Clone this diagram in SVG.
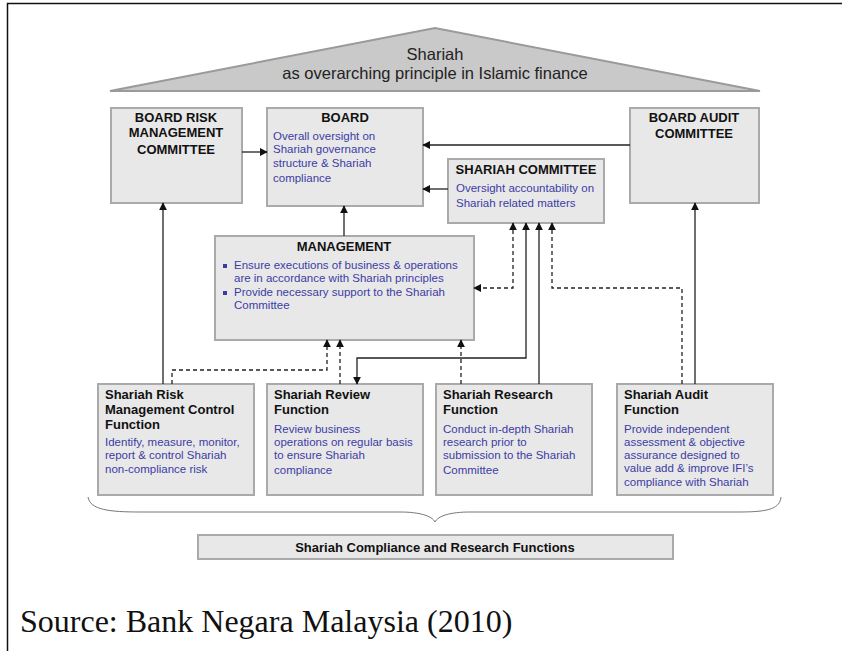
<svg xmlns="http://www.w3.org/2000/svg" width="842" height="651" viewBox="0 0 842 651">
<style>
.box{fill:#e8e8e8;stroke:#aaaaaa;stroke-width:2}
.t{font-family:"Liberation Sans",Arial,sans-serif;fill:#111;font-weight:bold;font-size:13px}
.ft{font-family:"Liberation Sans",Arial,sans-serif;fill:#111;font-weight:bold;font-size:13px}
.b{font-family:"Liberation Sans",Arial,sans-serif;fill:#3c3ca6;font-size:11.5px}
.c{fill:none;stroke:#222;stroke-width:1.3}
.d{fill:none;stroke:#222;stroke-width:1.3;stroke-dasharray:4,3}
</style>
<defs>
<marker id="ah" viewBox="0 0 10 10" refX="9" refY="5" markerWidth="8" markerHeight="8" markerUnits="userSpaceOnUse" orient="auto-start-reverse">
<path d="M0,0 L10,5 L0,10 z" fill="#111"/>
</marker>
</defs>
<rect x="0" y="0" width="842" height="651" fill="#fff"/>
<path d="M7.5,651 V3.5 H842" fill="none" stroke="#111" stroke-width="1.5"/>

<g id="roof">
<polygon points="110,91 435,28 760,91" fill="#c9c9c9" stroke="#9a9a9a" stroke-width="2"/>
<text x="435" y="60" text-anchor="middle" font-family="Liberation Sans,Arial,sans-serif" font-size="16.5" fill="#222">Shariah</text>
<text x="435" y="79" text-anchor="middle" font-family="Liberation Sans,Arial,sans-serif" font-size="16.5" fill="#222">as overarching principle in Islamic finance</text>
</g>

<g id="brmc">
<rect class="box" x="111" y="108" width="131" height="95"/>
<text class="t" x="176" y="122" text-anchor="middle">BOARD RISK</text>
<text class="t" x="176" y="137" text-anchor="middle">MANAGEMENT</text>
<text class="t" x="176" y="154" text-anchor="middle">COMMITTEE</text>
</g>

<g id="board">
<rect class="box" x="267" y="108" width="156" height="98"/>
<text class="t" x="345" y="122" text-anchor="middle">BOARD</text>
<text class="b" x="273" y="140">Overall oversight on</text>
<text class="b" x="273" y="153">Shariah governance</text>
<text class="b" x="273" y="167">structure &amp; Shariah</text>
<text class="b" x="273" y="182">compliance</text>
</g>

<g id="shariah-committee">
<rect class="box" x="448" y="159" width="156" height="64"/>
<text class="t" x="526" y="174" text-anchor="middle">SHARIAH COMMITTEE</text>
<text class="b" x="456" y="192">Oversight accountability on</text>
<text class="b" x="456" y="207">Shariah related matters</text>
</g>

<g id="bac">
<rect class="box" x="630" y="108" width="129" height="95"/>
<text class="t" x="694" y="122" text-anchor="middle">BOARD AUDIT</text>
<text class="t" x="694" y="138" text-anchor="middle">COMMITTEE</text>
</g>

<g id="management">
<rect class="box" x="215" y="236" width="259" height="104"/>
<text class="t" x="344" y="251" text-anchor="middle">MANAGEMENT</text>
<rect x="223" y="264" width="4" height="4" fill="#3c3ca6"/>
<rect x="223" y="291" width="4" height="4" fill="#3c3ca6"/>
<text class="b" x="234" y="269">Ensure executions of business &amp; operations</text>
<text class="b" x="234" y="282">are in accordance with Shariah principles</text>
<text class="b" x="234" y="296">Provide necessary support to the Shariah</text>
<text class="b" x="234" y="309">Committee</text>
</g>

<g id="srmcf">
<rect class="box" x="98" y="384" width="156" height="111"/>
<text class="ft" x="105" y="399">Shariah Risk</text>
<text class="ft" x="105" y="414">Management Control</text>
<text class="ft" x="105" y="429">Function</text>
<text class="b" x="105" y="446">Identify, measure, monitor,</text>
<text class="b" x="105" y="459">report &amp; control Shariah</text>
<text class="b" x="105" y="473">non-compliance risk</text>
</g>

<g id="srf">
<rect class="box" x="267" y="384" width="156" height="111"/>
<text class="ft" x="274" y="399">Shariah Review</text>
<text class="ft" x="274" y="414">Function</text>
<text class="b" x="274" y="433">Review business</text>
<text class="b" x="274" y="446">operations on regular basis</text>
<text class="b" x="274" y="459">to ensure Shariah</text>
<text class="b" x="274" y="474">compliance</text>
</g>

<g id="research">
<rect class="box" x="436" y="384" width="156" height="111"/>
<text class="ft" x="443" y="399">Shariah Research</text>
<text class="ft" x="443" y="414">Function</text>
<text class="b" x="443" y="433">Conduct in-depth Shariah</text>
<text class="b" x="443" y="446">research prior to</text>
<text class="b" x="443" y="459">submission to the Shariah</text>
<text class="b" x="443" y="474">Committee</text>
</g>

<g id="audit">
<rect class="box" x="617" y="384" width="156" height="111"/>
<text class="ft" x="624" y="399">Shariah Audit</text>
<text class="ft" x="624" y="414">Function</text>
<text class="b" x="624" y="433">Provide independent</text>
<text class="b" x="624" y="446">assessment &amp; objective</text>
<text class="b" x="624" y="459">assurance designed to</text>
<text class="b" x="624" y="472">value add &amp; improve IFI’s</text>
<text class="b" x="624" y="486">compliance with Shariah</text>
</g>

<g id="brace">
<path d="M88,497 C90,510 110,512 140,512 L400,512 C420,512 432,516 435,522 C438,516 450,512 470,512 L740,512 C770,512 780,508 781,497" fill="none" stroke="#777" stroke-width="1"/>
</g>

<g id="scrf">
<rect class="box" x="198" y="535" width="475" height="24"/>
<text x="435" y="552" text-anchor="middle" font-family="Liberation Sans,Arial,sans-serif" font-weight="bold" font-size="13" fill="#111">Shariah Compliance and Research Functions</text>
</g>

<g id="connectors">
<path class="c" d="M242,152 H267" marker-end="url(#ah)"/>
<path class="c" d="M630,145 H423" marker-end="url(#ah)"/>
<path class="c" d="M448,189 H423" marker-end="url(#ah)"/>
<path class="c" d="M344,236 V206" marker-end="url(#ah)"/>
<path class="c" d="M163,384 V203" marker-end="url(#ah)"/>
<path class="c" d="M695,384 V203" marker-end="url(#ah)"/>
<path class="d" d="M172,384 V370 H327 V340" marker-end="url(#ah)"/>
<path class="d" d="M340,384 V340" marker-end="url(#ah)"/>
<path class="d" d="M461,384 V340" marker-end="url(#ah)"/>
<path class="c" d="M526,223 V358 H357 V384" marker-start="url(#ah)" marker-end="url(#ah)"/>
<path class="c" d="M539,384 V223" marker-end="url(#ah)"/>
<path class="d" d="M682,384 V288 H552 V223" marker-end="url(#ah)"/>
<path class="d" d="M513,223 V288 H474" marker-start="url(#ah)" marker-end="url(#ah)"/>
</g>

<text x="20" y="632" font-family="Liberation Serif,Times New Roman,serif" font-size="32" fill="#111">Source: Bank Negara Malaysia (2010)</text>
</svg>
